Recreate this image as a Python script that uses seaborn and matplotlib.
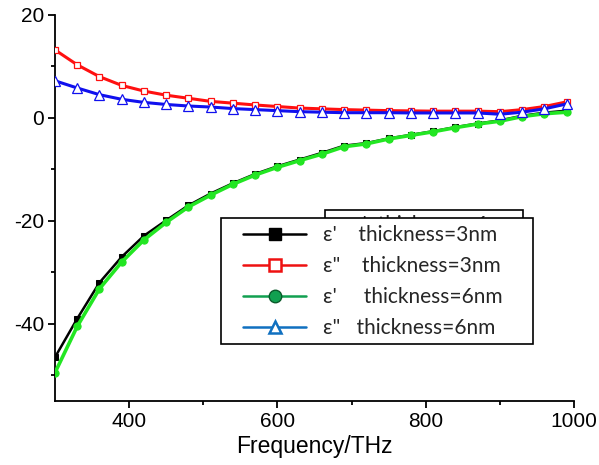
import numpy as np
import pandas as pd
import matplotlib
matplotlib.use("Agg")
import matplotlib.pyplot as plt
from matplotlib.lines import Line2D
from matplotlib.patches import Rectangle
import seaborn as sns

# Frequency (THz)
freq = [300, 330, 360, 390, 420, 450, 480, 510, 540, 570, 600, 630,
        660, 690, 720, 750, 780, 810, 840, 870, 900, 930, 960, 990]

# eps' thickness = 3 nm
eps1_3nm = [-46.5, -39.0, -32.0, -27.0, -22.9, -19.9, -17.0, -14.7, -12.7, -10.9, -9.4, -8.1,
            -6.8, -5.4, -4.9, -4.0, -3.3, -2.6, -1.8, -1.1, -0.5, 0.4, 1.0, 1.4]
# eps'' thickness = 3 nm
eps2_3nm = [13.2, 10.3, 8.0, 6.3, 5.2, 4.4, 3.8, 3.2, 2.85, 2.5, 2.2, 1.9,
            1.75, 1.6, 1.5, 1.4, 1.35, 1.3, 1.3, 1.3, 1.2, 1.6, 2.2, 3.1]
# eps' thickness = 6 nm
eps1_6nm = [-49.5, -40.5, -33.2, -28.0, -23.7, -20.3, -17.3, -15.0, -12.9, -11.1, -9.6, -8.3,
            -7.05, -5.6, -5.05, -4.1, -3.4, -2.7, -1.9, -1.2, -0.65, 0.25, 0.8, 1.1]
# eps'' thickness = 6 nm
eps2_6nm = [7.2, 5.8, 4.5, 3.6, 3.0, 2.6, 2.3, 2.1, 1.8, 1.6, 1.4, 1.2,
            1.1, 1.0, 1.0, 1.0, 0.95, 0.95, 0.95, 0.95, 0.7, 1.1, 1.75, 2.7]

legend_labels = ["\u03b5'    thickness=3nm", "\u03b5\"    thickness=3nm",
                 "\u03b5'     thickness=6nm", "\u03b5\"   thickness=6nm"]

sns.set_theme(style="ticks")
plt.rcParams['font.family'] = ['Liberation Sans', 'DejaVu Sans']
plt.rcParams['axes.unicode_minus'] = False

fig = plt.figure(figsize=(5.99, 4.65), dpi=100)
ax = fig.add_axes([0.0918, 0.1376, 0.8665, 0.8304])

sns.lineplot(x=freq, y=eps1_3nm, ax=ax, color='black', lw=1.8, marker='s',
             markersize=4.2, markerfacecolor='black', markeredgecolor='black', zorder=3)
sns.lineplot(x=freq, y=eps1_6nm, ax=ax, color='#22e622', lw=2.6, marker='o',
             markersize=5.2, markerfacecolor='#22e622', markeredgecolor='#22e622', zorder=4)
sns.lineplot(x=freq, y=eps2_3nm, ax=ax, color='#ff1010', lw=2.2, marker='s',
             markersize=5, markerfacecolor='white', markeredgecolor='#ff1010',
             markeredgewidth=0.9, zorder=5)
sns.lineplot(x=freq, y=eps2_6nm, ax=ax, color='#1010ee', lw=2.2, marker='^',
             markersize=6.5, markerfacecolor='white', markeredgecolor='#1010ee',
             markeredgewidth=0.9, zorder=6)

ax.set_xlim(300, 1000)
ax.set_ylim(-55, 20)
ax.set_xticks([400, 600, 800, 1000])
ax.set_xticks([500, 700, 900], minor=True)
ax.set_yticks([-40, -20, 0, 20])
ax.set_yticks([-50, -30, -10, 10], minor=True)
ax.tick_params(axis='both', which='major', direction='out', length=5, width=1.3,
               labelsize=15, color='black', labelcolor='black', pad=3)
ax.tick_params(axis='both', which='minor', direction='out', length=3, width=1.3,
               color='black')
ax.spines['top'].set_visible(False)
ax.spines['right'].set_visible(False)
for s in ['left', 'bottom']:
    ax.spines[s].set_color('black')
    ax.spines[s].set_linewidth(1.3)
ax.set_xlabel('Frequency/THz', fontsize=16.5, color='black', labelpad=3)
ax.set_ylabel('')

# background box artifact behind the legend
rect = Rectangle((0.520, 0.30), 0.382, 0.195, transform=ax.transAxes,
                 facecolor='white', edgecolor='black', lw=1.2, zorder=7)
ax.add_patch(rect)
ax.text(0.575, 0.482, "\u03b5'  thickness=6nm", transform=ax.transAxes,
        fontsize=15, family=['Lato', 'DejaVu Sans'], va='top', ha='left', zorder=8)

# legend frame
frame = Rectangle((0.32, 0.148), 0.601, 0.326, transform=ax.transAxes,
                  facecolor='white', edgecolor='black', lw=1.2, zorder=9)
ax.add_patch(frame)

handles = [
    Line2D([], [], color='black', lw=1.8, marker='s', markersize=9,
           markerfacecolor='black', markeredgecolor='black'),
    Line2D([], [], color='#ee1111', lw=1.8, marker='s', markersize=9,
           markerfacecolor='white', markeredgecolor='#ee1111', markeredgewidth=1.8),
    Line2D([], [], color='#11a050', lw=1.8, marker='o', markersize=9,
           markerfacecolor='#11a050', markeredgecolor='#0a5a2a', markeredgewidth=1.0),
    Line2D([], [], color='#1070c0', lw=1.8, marker='^', markersize=9,
           markerfacecolor='white', markeredgecolor='#1070c0', markeredgewidth=1.8),
]
leg = ax.legend(handles, legend_labels, loc='upper left',
                bbox_to_anchor=(0.362, 0.455),
                prop={'family': ['Lato', 'DejaVu Sans'], 'size': 15},
                frameon=False, handlelength=3.05, handletextpad=0.8, borderpad=0,
                labelspacing=0.52, borderaxespad=0)
leg.set_zorder(10)

fig.savefig('out.png', dpi=100)
